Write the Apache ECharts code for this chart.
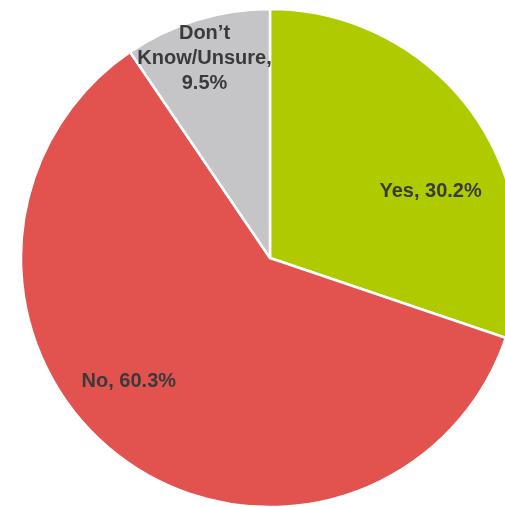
<!DOCTYPE html>
<html>
<head>
<meta charset="utf-8">
<script src="https://cdn.jsdelivr.net/npm/echarts@6/dist/echarts.min.js"></script>
<style>
  html, body { margin: 0; padding: 0; background: #ffffff; }
  #chart { width: 505px; height: 507px; }
</style>
</head>
<body>
<div id="chart"></div>
<script>
// Survey answer shares (percent)
const categories = ['Yes', 'No', 'Don\u2019t Know/Unsure'];
const shares = [30.2, 60.3, 9.5];
const sliceColors = ['#afcb00', '#e2534f', '#c5c5c7'];
// Label text layout: the long answer wraps over three lines
const labelTemplates = ['{b}, {c}%', '{b}, {c}%', 'Don\u2019t\nKnow/Unsure,\n{c}%'];
// Nudges that move each label from its default inside spot
const labelOffsets = [[57, 8], [-64, 22], [-28, -78]];

const chart = echarts.init(document.getElementById('chart'), null, { renderer: 'canvas' });

const data = categories.map((name, i) => ({
  name: name,
  value: shares[i],
  itemStyle: { color: sliceColors[i] },
  label: { offset: labelOffsets[i], formatter: labelTemplates[i] }
}));

chart.setOption({
  animation: false,
  backgroundColor: '#ffffff',
  series: [{
    type: 'pie',
    center: [270, 258],
    radius: [0, 249],
    startAngle: 90,
    clockwise: true,
    avoidLabelOverlap: false,
    itemStyle: { borderColor: '#ffffff', borderWidth: 2.5 },
    label: {
      show: true,
      position: 'inside',
      fontFamily: 'Liberation Sans, Arial, sans-serif',
      fontWeight: 'bold',
      fontSize: 20,
      lineHeight: 25,
      color: '#3a3a3a',
      align: 'center'
    },
    labelLine: { show: false },
    emphasis: { disabled: true },
    data: data
  }]
});
</script>
</body>
</html>
